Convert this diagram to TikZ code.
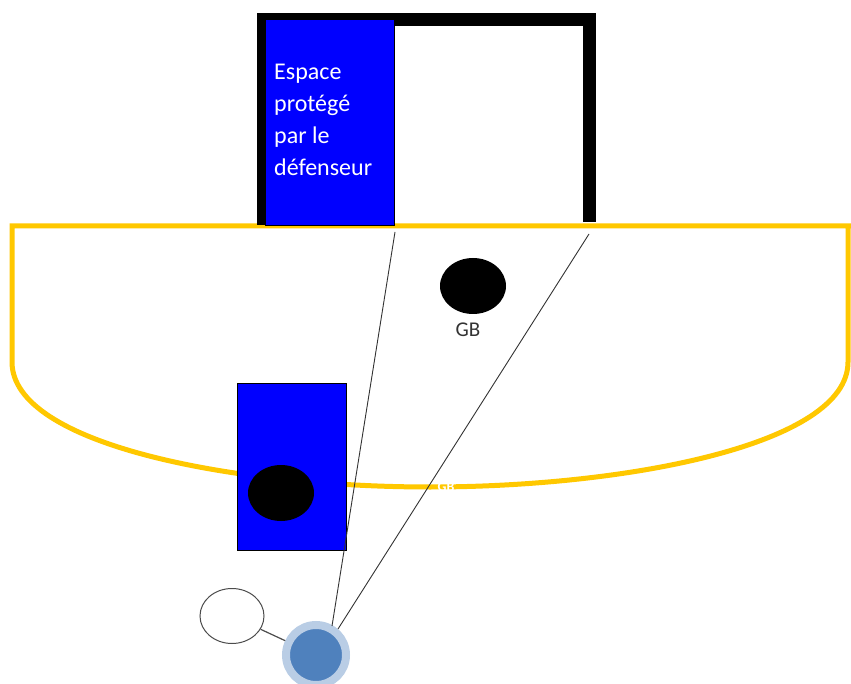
\documentclass[tikz,border=0pt]{standalone}
\usepackage{fontspec}
\setmainfont{Carlito}
\definecolor{zone}{RGB}{255,200,0}
\definecolor{pureblue}{RGB}{0,0,255}
\definecolor{shooter}{RGB}{79,129,189}
\definecolor{shooterhalo}{RGB}{185,205,229}
\tikzset{
  player/.style={ellipse, fill=black, minimum width=66pt, minimum height=56pt, inner sep=0pt},
  sightline/.style={draw=black!80, line width=0.9pt},
  protect/.style={fill=pureblue, draw=black, line width=1pt},
  spacetext/.style={anchor=base west, text=white, font=\fontsize{24}{28}\selectfont, inner sep=0pt},
}
\usetikzlibrary{shapes.geometric}
\begin{document}
\begin{tikzpicture}[x=1pt,y=-1pt]
\useasboundingbox (0,0) rectangle (851,684);
\fill[white] (0,0) rectangle (851,684);
% zone
\draw[zone, line width=5pt] (851,226) -- (12,226) -- (12,362)
  .. controls (12,445) and (235,487) .. (430,487)
  .. controls (625,487) and (848,445) .. (848,362) -- (848,226);
% goal
\draw[black, line width=13pt] (263,225) -- (263,20) -- (589,20) -- (589,222);
\fill[pureblue] (265,19) rectangle (394,225);
\draw[black, line width=0.8pt] (265,19) rectangle (394,225);
\node[spacetext] (t1) at (274,80) {Espace};
\node[spacetext] (t2) at (274,112) {protégé};
\node[spacetext] (t3) at (274,144) {par le};
\node[spacetext] (t4) at (274,176) {défenseur};
% goalkeeper
\node[player] (gb) at (473,286) {};
\node[text=black!80, font=\fontsize{21}{24}\selectfont] (gblabel) at (468,330) {GB};
% defender
\node[protect, minimum width=109pt, minimum height=167pt, inner sep=0pt] (def) at (291.5,466.5) {};
\node[player] (defp) at (281,493) {};
% hidden white label
\node[text=white, font=\fontsize{14}{16}\selectfont\bfseries] (wl) at (446,487) {GB};
% shooter
\node[circle, fill=shooter, draw=shooterhalo, line width=8pt, minimum size=60pt, inner sep=0pt] (sh) at (316,655) {};
\coordinate (g1) at (395,232);
\coordinate (g2) at (589,234);
\coordinate (s1) at (332,626);
\coordinate (s2) at (338,629);
\draw[sightline] (s1) -- (g1);
\draw[sightline] (s2) -- (g2);
% ball
\node[ellipse, draw=black!70, fill=white, line width=1pt, minimum width=64pt, minimum height=55pt, inner sep=0pt] (ball) at (232,616) {};
\draw[black!70, line width=1.2pt] (ball) -- (sh);
\end{tikzpicture}
\end{document}
